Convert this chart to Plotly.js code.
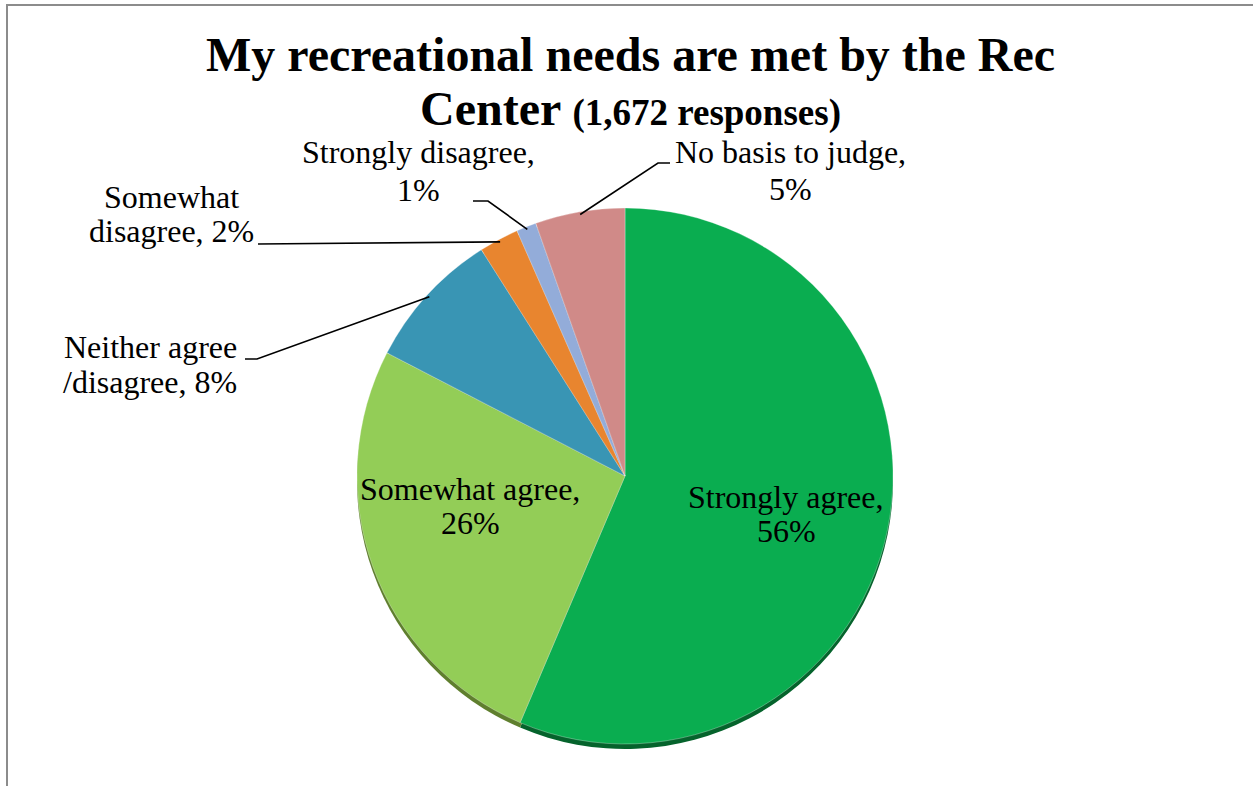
<!DOCTYPE html>
<html>
<head>
<meta charset="utf-8">
<script src="https://cdn.plot.ly/plotly-3.0.1.min.js"></script>
<style>html,body{margin:0;padding:0;background:#fff;}#chart{width:1253px;height:786px;}</style>
</head>
<body>
<div id="chart"></div>
<script>
// ---- data ----
const categories = ['Strongly agree', 'Somewhat agree', 'Neither agree /disagree', 'Somewhat disagree', 'Strongly disagree', 'No basis to judge'];
const values = [56.4, 26.2, 8.4, 2.4, 1.2, 5.4];
const labelTemplates = ['Strongly agree,|{p}', 'Somewhat agree,|{p}', 'Neither agree|/disagree, {p}', 'Somewhat|disagree, {p}', 'Strongly disagree,|{p}', 'No basis to judge,|{p}'];
const titleLine1 = 'My recreational needs are met by the Rec';
const titleLine2 = 'Center';
const titleSub = '(1,672 responses)';

// ---- style / layout ----
const W = 1253, H = 786;
const colors = ['#0aad50', '#93cd57', '#3995b4', '#e8852f', '#93acd9', '#d08a88'];
const rimColors = ['#05632c', '#5f7f2e', '#25606f', '#95501a', '#5d6f8f', '#875756'];
const pie = {cx: 625, cy: 476, r: 268, rim: 5};
const FONT = 'Liberation Serif, Times New Roman, serif';
const fs = 32;
const titleFs = 48;
// label baselines (px) and line spacing
const labelPos = [
  {x: 786, y: 508, dy: 34},
  {x: 470, y: 500, dy: 34},
  {x: 150, y: 358, dy: 35},
  {x: 171, y: 208, dy: 34},
  {x: 418, y: 163, dy: 38},
  {x: 790, y: 163, dy: 37}
];
// leader line start points (px), null = inside label
const leaders = [null, null,
  [[245, 359], [257, 359]],
  [[258, 244]],
  [[473, 201], [488, 201]],
  [[670, 163], [658, 163]]
];

const px = x => x / W;
const py = y => 1 - y / H;

function domainFor(cx, cy, r) {
  return {x: [px(cx - r), px(cx + r)], y: [py(cy + r), py(cy - r)]};
}

const total = values.reduce((a, b) => a + b, 0);
const traces = [
  {
    type: 'pie', values: values, labels: categories, sort: false, direction: 'clockwise', rotation: 0,
    domain: domainFor(pie.cx, pie.cy + pie.rim, pie.r),
    marker: {colors: rimColors, line: {width: 0}},
    textinfo: 'none', hoverinfo: 'skip', showlegend: false
  },
  {
    type: 'pie', values: values, labels: categories, sort: false, direction: 'clockwise', rotation: 0,
    domain: domainFor(pie.cx, pie.cy, pie.r),
    marker: {colors: colors, line: {width: 0.6, color: 'rgba(255,255,255,0.5)'}},
    textinfo: 'none', hoverinfo: 'label+percent', showlegend: false
  }
];

const annotations = [];
const shapes = [];
const mid = 0.3375 * fs;
let cum = 0;
values.forEach((v, i) => {
  const frac0 = cum / total;
  cum += v;
  const frac1 = cum / total;
  const pct = Math.round(v / total * 100) + '%';
  const lines = labelTemplates[i].replace('{p}', pct).split('|');
  const pos = labelPos[i];
  lines.forEach((t, k) => {
    annotations.push({
      text: t, showarrow: false, xref: 'paper', yref: 'paper',
      x: px(pos.x), y: py(pos.y + k * pos.dy - mid), xanchor: 'center', yanchor: 'middle',
      font: {family: FONT, size: fs, color: '#000'}
    });
  });
  if (leaders[i]) {
    const th = 2 * Math.PI * (frac0 + frac1) / 2;
    const tx = pie.cx + pie.r * 0.99 * Math.sin(th);
    const ty = pie.cy - pie.r * 0.99 * Math.cos(th);
    const pts = leaders[i].concat([[tx, ty]]);
    const path = pts.map((p, k) => (k ? 'L' : 'M') + px(p[0]).toFixed(5) + ',' + py(p[1]).toFixed(5)).join(' ');
    shapes.push({type: 'path', xref: 'paper', yref: 'paper', path: path, line: {color: '#000', width: 1.6}});
  }
});

// title
annotations.push({
  text: '<b>' + titleLine1 + '</b>', showarrow: false, xref: 'paper', yref: 'paper',
  x: px(630), y: py(71 - 0.3375 * titleFs), xanchor: 'center', yanchor: 'middle',
  font: {family: FONT, size: titleFs, color: '#000'}
});
annotations.push({
  text: '<b>' + titleLine2 + ' <span style="font-size:37px">' + titleSub + '</span></b>', showarrow: false, xref: 'paper', yref: 'paper',
  x: px(630), y: py(125 - 0.3375 * titleFs), xanchor: 'center', yanchor: 'middle',
  font: {family: FONT, size: titleFs, color: '#000'}
});

// frame
shapes.push({type: 'rect', xref: 'paper', yref: 'paper', x0: px(7), x1: 1.05, y0: -0.05, y1: py(5), line: {color: '#8c8c8c', width: 2}});

const layout = {
  width: W, height: H, margin: {l: 0, r: 0, t: 0, b: 0},
  paper_bgcolor: '#fff', plot_bgcolor: '#fff', showlegend: false,
  annotations: annotations, shapes: shapes
};
Plotly.newPlot('chart', traces, layout, {displayModeBar: false, staticPlot: true});
</script>
</body>
</html>
